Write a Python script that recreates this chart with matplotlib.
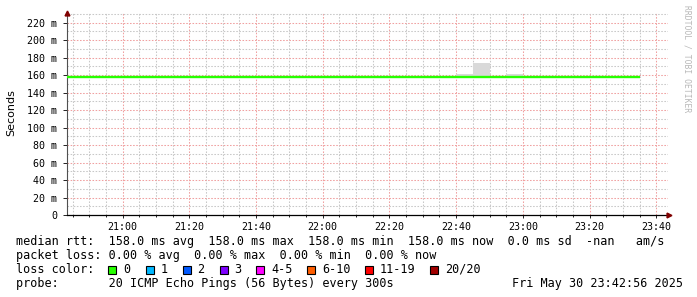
import matplotlib
matplotlib.use("Agg")
import matplotlib.pyplot as plt
import matplotlib.dates as mdates
from matplotlib.patches import Rectangle
from matplotlib.ticker import MultipleLocator, FuncFormatter
import pandas as pd

# 5-minute rrd bins, start of first bin and end of last bin
first_bin = "2025-05-30 20:40"
last_edge = "2025-05-30 23:35"

# median rtt per bin (ms)
median_ms = [158.0, 158.0, 158.0, 158.0, 158.0, 158.0, 158.0,
             158.0, 158.0, 158.0, 158.0, 158.0, 158.0, 158.0,
             158.0, 158.0, 158.0, 158.0, 158.0, 158.0, 158.0,
             158.0, 158.0, 158.0, 158.0, 158.0, 158.0, 158.0,
             158.0, 158.0, 158.0, 158.0, 158.0, 158.0, 158.0]
# top of the smoke per bin (ms)
smoke_top_ms = [158.0, 158.0, 158.0, 158.0, 158.0, 158.0, 158.0,
                158.0, 158.0, 158.0, 158.0, 158.0, 158.0, 158.0,
                158.0, 158.0, 158.0, 158.0, 158.0, 158.0, 158.0,
                158.0, 158.0, 158.0, 160.8, 174.0, 158.0, 161.3,
                158.0, 158.0, 158.0, 158.0, 158.0, 158.0, 158.0]

loss_labels = ["0", "1", "2", "3", "4-5", "6-10", "11-19", "20/20"]
loss_colors = ["#26ff00", "#00b8ff", "#0059ff", "#7e00ff",
               "#ff00ff", "#ff5e00", "#ff0000", "#a10000"]

legend_rows = [
    "median rtt:  158.0 ms avg  158.0 ms max  158.0 ms min  158.0 ms now  0.0 ms sd  -nan   am/s",
    "packet loss: 0.00 % avg  0.00 % max  0.00 % min  0.00 % now",
    "loss color:",
    "probe:       20 ICMP Echo Pings (56 Bytes) every 300s",
]
stamp = "Fri May 30 23:42:56 2025"

W, H = 697, 297
MONO = "DejaVu Sans Mono"

fig = plt.figure(figsize=(W / 100, H / 100), dpi=100)
fig.patch.set_facecolor("white")
ax = fig.add_axes([67 / W, 1 - 215 / H, (668 - 67) / W, (215 - 13) / H])

edges = mdates.date2num(pd.date_range(first_bin, last_edge, freq="5min"))
base = [m - 1 for m in median_ms]
ax.stairs(smoke_top_ms, edges, baseline=base, fill=True, color="#d9d9d9", zorder=2)
ax.stairs(median_ms, edges, baseline=None, color="#26ff00", linewidth=1.7, zorder=3)

ax.set_xlim(mdates.date2num(pd.Timestamp("2025-05-30 20:43:20")),
            mdates.date2num(pd.Timestamp("2025-05-30 23:43:30")))
ax.set_ylim(0, 231)

ax.xaxis.set_major_locator(mdates.MinuteLocator(byminute=[0, 20, 40]))
ax.xaxis.set_minor_locator(mdates.MinuteLocator(byminute=range(0, 60, 5)))
ax.xaxis.set_major_formatter(mdates.DateFormatter("%H:%M"))
ax.yaxis.set_major_locator(MultipleLocator(20))
ax.yaxis.set_minor_locator(MultipleLocator(10))
ax.yaxis.set_major_formatter(FuncFormatter(lambda v, p: "0" if v == 0 else f"{v:.0f} m"))
ax.set_yticks([v for v in range(0, 221, 20)])

ax.grid(which="minor", color="#c8c8c8", linestyle=(0, (1.5, 1.5)), linewidth=0.75, zorder=0)
ax.grid(which="major", color="#f0a0a0", linestyle=(0, (1.5, 1.5)), linewidth=0.75, zorder=1)
ax.set_axisbelow(True)

for s in ["top", "right"]:
    ax.spines[s].set_visible(False)
ax.spines["left"].set_color("#505050")
ax.spines["left"].set_linewidth(0.8)
ax.spines["bottom"].set_color("black")
ax.spines["bottom"].set_linewidth(0.9)

ax.tick_params(axis="both", which="both", labelsize=7.2, colors="black")
ax.tick_params(axis="x", which="major", length=2, width=0.6, pad=3)
ax.tick_params(axis="x", which="minor", length=1.5, width=0.6)
ax.tick_params(axis="y", which="major", length=3, width=0.6, pad=4)
ax.tick_params(axis="y", which="minor", length=0)
for lab in ax.get_xticklabels() + ax.get_yticklabels():
    lab.set_family(MONO)

# axis arrows
ax.plot([0], [1.0], marker="^", markersize=3.5, color="#800000",
        transform=ax.transAxes, clip_on=False, zorder=5)
ax.plot([1.002], [0], marker=">", markersize=3.5, color="#800000",
        transform=ax.transAxes, clip_on=False, zorder=5)

fig.text(11 / W, 1 - 113 / H, "Seconds", rotation=90, ha="center", va="center",
         fontsize=8, family="DejaVu Sans")
fig.text(687 / W, 1 - 5 / H, "RRDTOOL / TOBI OETIKER", rotation=270, ha="center", va="top",
         fontsize=5.8, family=MONO, color="#b8b8b8")

row_y = [241.5, 255.5, 269.2, 283.3]
for txt, yy in zip(legend_rows, row_y):
    fig.text(16 / W, 1 - yy / H, txt, ha="left", va="center", fontsize=8.5, family=MONO)
fig.text(683 / W, 1 - row_y[3] / H, stamp, ha="right", va="center", fontsize=8.5, family=MONO)

# loss color legend boxes
box_x = [108, 145.5, 182.5, 219.5, 256, 307, 365, 430]
for x, lab, col in zip(box_x, loss_labels, loss_colors):
    fig.add_artist(Rectangle((x / W, 1 - 273.5 / H), 8 / W, 8 / H, transform=fig.transFigure,
                             facecolor=col, edgecolor="black", linewidth=0.8))
    fig.text((x + 15) / W, 1 - row_y[2] / H, lab, ha="left", va="center",
             fontsize=8.5, family=MONO)

fig.savefig("out.png", dpi=100)
